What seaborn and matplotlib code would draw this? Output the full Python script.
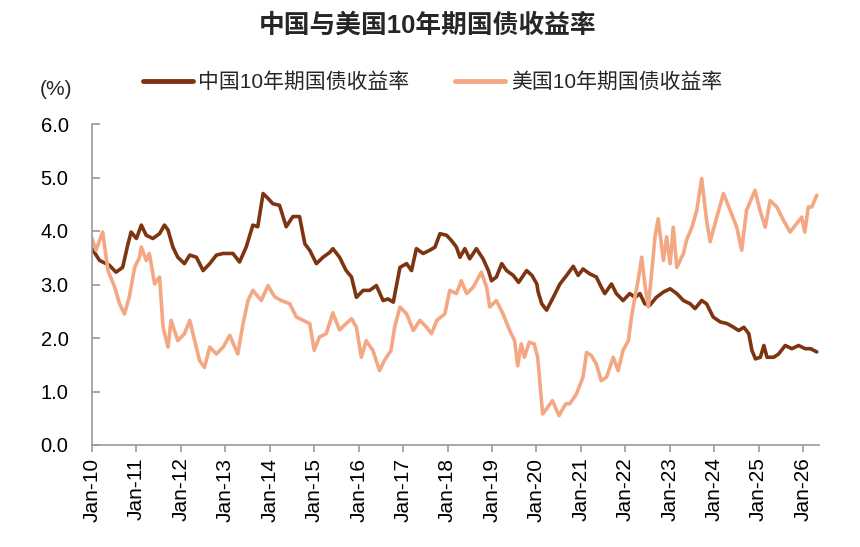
import numpy as np
import pandas as pd
import matplotlib
matplotlib.use("Agg")
import matplotlib.pyplot as plt
import seaborn as sns
from matplotlib.lines import Line2D

# ---- data (years since Jan-2010, yield %) ----
cn_t = [0.00, 0.17, 0.39, 0.54, 0.69, 0.81, 0.88, 1.00, 1.11, 1.22, 1.37, 1.52, 1.63, 1.71,
        1.82, 1.93, 2.08, 2.20, 2.35, 2.50, 2.65, 2.80, 2.95, 3.17, 3.32, 3.47, 3.62, 3.73,
        3.85, 3.96, 4.07, 4.22, 4.37, 4.52, 4.67, 4.79, 4.90, 5.05, 5.20, 5.35, 5.42, 5.57,
        5.72, 5.84, 5.95, 6.10, 6.25, 6.40, 6.55, 6.66, 6.78, 6.93, 7.08, 7.19, 7.30, 7.45,
        7.60, 7.72, 7.83, 7.98, 8.09, 8.20, 8.28, 8.39, 8.50, 8.65, 8.80, 8.92, 8.99, 9.10,
        9.22, 9.33, 9.48, 9.60, 9.78, 9.90, 10.01, 10.04, 10.12, 10.23, 10.38, 10.53, 10.68,
        10.83, 10.94, 11.05, 11.20, 11.35, 11.46, 11.54, 11.69, 11.80, 11.95, 12.10, 12.22,
        12.33, 12.44, 12.55, 12.70, 12.86, 13.01, 13.16, 13.31, 13.46, 13.57, 13.72, 13.83,
        13.98, 14.14, 14.29, 14.44, 14.55, 14.67, 14.78, 14.85, 14.93, 15.04, 15.12, 15.19,
        15.34, 15.45, 15.60, 15.75, 15.90, 16.05, 16.17, 16.31]
cn_v = [3.67, 3.45, 3.36, 3.23, 3.32, 3.76, 3.98, 3.86, 4.11, 3.92, 3.86, 3.95, 4.11, 4.02,
        3.70, 3.51, 3.39, 3.55, 3.51, 3.26, 3.39, 3.55, 3.58, 3.58, 3.42, 3.70, 4.11, 4.08,
        4.70, 4.61, 4.51, 4.48, 4.08, 4.27, 4.27, 3.76, 3.64, 3.39, 3.51, 3.60, 3.67, 3.51,
        3.26, 3.14, 2.76, 2.89, 2.89, 2.98, 2.70, 2.73, 2.67, 3.32, 3.39, 3.26, 3.67, 3.58,
        3.64, 3.70, 3.95, 3.92, 3.82, 3.70, 3.51, 3.67, 3.48, 3.67, 3.48, 3.26, 3.07, 3.14,
        3.39, 3.26, 3.17, 3.04, 3.26, 3.17, 3.01, 2.86, 2.64, 2.52, 2.76, 3.01, 3.17,
        3.34, 3.17, 3.29, 3.20, 3.14, 2.95, 2.83, 3.01, 2.83, 2.70, 2.83, 2.76,
        2.83, 2.64, 2.61, 2.76, 2.86, 2.92, 2.83, 2.70, 2.64, 2.55, 2.70, 2.64,
        2.39, 2.30, 2.27, 2.20, 2.14, 2.20, 2.08, 1.77, 1.61, 1.64, 1.86, 1.64,
        1.64, 1.70, 1.86, 1.80, 1.86, 1.80, 1.80, 1.74]

us_t = [0.00, 0.09, 0.24, 0.36, 0.51, 0.62, 0.73, 0.84, 0.96, 1.07, 1.11, 1.22, 1.29, 1.41,
        1.52, 1.60, 1.71, 1.78, 1.93, 2.08, 2.20, 2.31, 2.42, 2.53, 2.65, 2.80, 2.95, 3.10,
        3.28, 3.40, 3.51, 3.62, 3.81, 3.96, 4.11, 4.26, 4.45, 4.60, 4.75, 4.90, 5.00, 5.12,
        5.27, 5.42, 5.57, 5.72, 5.84, 5.95, 6.06, 6.17, 6.32, 6.47, 6.58, 6.73, 6.81, 6.93,
        7.08, 7.23, 7.38, 7.53, 7.64, 7.76, 7.94, 8.05, 8.20, 8.31, 8.43, 8.58, 8.76, 8.88,
        8.95, 9.10, 9.25, 9.40, 9.51, 9.58, 9.66, 9.73, 9.84, 9.95, 10.03, 10.10, 10.14,
        10.25, 10.36, 10.51, 10.66, 10.75, 10.90, 11.05, 11.13, 11.24, 11.35, 11.46, 11.58,
        11.73, 11.84, 11.95, 12.07, 12.14, 12.22, 12.29, 12.37, 12.44, 12.52, 12.59, 12.67,
        12.74, 12.86, 12.93, 13.01, 13.08, 13.16, 13.31, 13.38, 13.50, 13.61, 13.72, 13.83,
        13.91, 14.06, 14.21, 14.36, 14.51, 14.62, 14.73, 14.92, 15.03, 15.15, 15.26, 15.41,
        15.56, 15.71, 15.86, 15.97, 16.04, 16.12, 16.20, 16.31]
us_v = [3.86, 3.64, 3.98, 3.26, 2.95, 2.64, 2.45, 2.77, 3.32, 3.51, 3.70, 3.45, 3.58, 3.01,
        3.14, 2.20, 1.83, 2.33, 1.95, 2.08, 2.33, 1.95, 1.58, 1.45, 1.83, 1.70, 1.83, 2.05,
        1.70, 2.27, 2.70, 2.89, 2.70, 2.98, 2.77, 2.70, 2.64, 2.39, 2.33, 2.27, 1.77, 2.02,
        2.08, 2.47, 2.15, 2.27, 2.36, 2.20, 1.64, 1.95, 1.77, 1.39, 1.58, 1.77, 2.20, 2.58,
        2.45, 2.14, 2.33, 2.20, 2.08, 2.33, 2.45, 2.89, 2.83, 3.07, 2.83, 2.95, 3.23, 2.95,
        2.58, 2.70, 2.45, 2.14, 1.95, 1.48, 1.89, 1.64, 1.92, 1.89, 1.64, 0.95, 0.58,
        0.70, 0.83, 0.55, 0.77, 0.77, 0.95, 1.27, 1.73, 1.67, 1.51, 1.20, 1.27,
        1.64, 1.39, 1.77, 1.95, 2.39, 2.77, 3.08, 3.51, 3.01, 2.58, 3.20, 3.89,
        4.23, 3.45, 3.89, 3.39, 4.07, 3.32, 3.58, 3.83, 4.07, 4.39, 4.98, 4.20,
        3.80, 4.26, 4.70, 4.39, 4.07, 3.64, 4.39, 4.76, 4.39, 4.07, 4.57, 4.45,
        4.20, 3.98, 4.14, 4.26, 3.98, 4.45, 4.45, 4.67]

cn_label = "中国10年期国债收益率"
us_label = "美国10年期国债收益率"
year_ticks = list(range(2010, 2027))
tick_labels = [f"Jan-{y % 100:02d}" for y in year_ticks]
y_ticks = [0.0, 1.0, 2.0, 3.0, 4.0, 5.0, 6.0]

df = pd.concat([
    pd.DataFrame({"year": 2010 + np.array(cn_t), "value": cn_v, "series": cn_label}),
    pd.DataFrame({"year": 2010 + np.array(us_t), "value": us_v, "series": us_label}),
], ignore_index=True)

sns.set_theme(style="white")
plt.rcParams["font.family"] = ["Liberation Sans", "Noto Sans CJK SC", "DejaVu Sans"]

fig = plt.figure(figsize=(8.6, 5.47), dpi=100)
ax = fig.add_axes([92 / 860, 1 - 445 / 547, (819 - 92) / 860, (445 - 124) / 547])

palette = {cn_label: "#7F3411", us_label: "#F3A883"}
sns.lineplot(data=df, x="year", y="value", hue="series", palette=palette,
             hue_order=[cn_label, us_label], linewidth=2.6, ax=ax, legend=False,
             sort=False, estimator=None)

ax.set_xlim(2010.0, 2026.36)
ax.set_ylim(0, 6)
ax.set_xticks(year_ticks)
ax.set_xticklabels(tick_labels, rotation=90, fontsize=15)
ax.set_yticks(y_ticks)
ax.set_yticklabels([f"{v:.1f}" for v in y_ticks], fontsize=14.5, ha="left")
ax.set_xlabel("")
ax.set_ylabel("")

for s in ["top", "right"]:
    ax.spines[s].set_visible(False)
for s in ["left", "bottom"]:
    ax.spines[s].set_color("#999999")
    ax.spines[s].set_linewidth(1.2)

ax.tick_params(axis="y", left=True, direction="in", length=6, width=1.2, color="#999999",
               pad=37, labelcolor="black")
ax.tick_params(axis="x", bottom=True, direction="out", length=5, width=1.2, color="#999999",
               pad=4, labelcolor="black")

handles = [Line2D([0], [0], color=palette[cn_label], lw=3.5),
           Line2D([0], [0], color=palette[us_label], lw=3.5)]
fig.legend(handles, [cn_label, us_label], loc="center", bbox_to_anchor=(0.503, 0.85),
           ncol=2, frameon=False, fontsize=15, handlelength=2.4, handletextpad=0.25,
           columnspacing=2.2)

fig.text(0.497, 0.954, "中国与美国10年期国债收益率", ha="center", va="center",
         fontsize=18.5, fontweight="bold")
fig.text(40 / 860, 1 - 90 / 547, "(%)", ha="left", va="center", fontsize=15)

fig.savefig("out.png", dpi=100)
